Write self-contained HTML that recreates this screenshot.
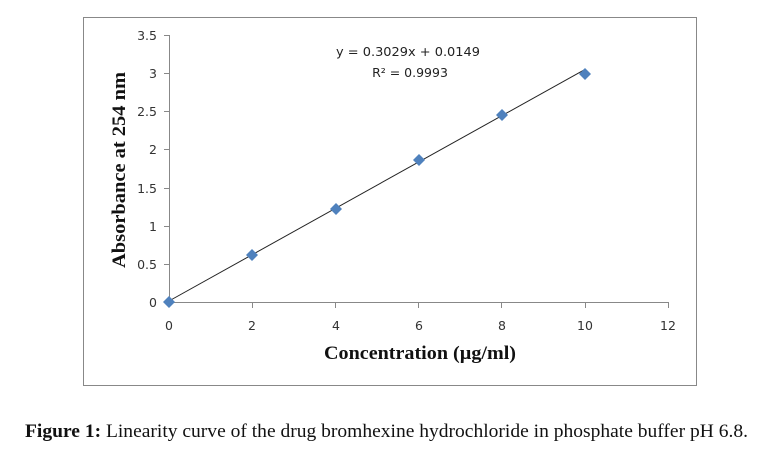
<!DOCTYPE html>
<html><head><meta charset="utf-8"><style>
body{margin:0;background:#fff;width:758px;height:454px;overflow:hidden}
</style></head><body>
<svg width="758" height="454" xmlns="http://www.w3.org/2000/svg">
<rect x="83.5" y="17.5" width="613" height="368" fill="#fff" stroke="#888" stroke-width="1"/>
<g stroke="#888" stroke-width="1" fill="none">
<line x1="169.5" y1="35" x2="169.5" y2="302"/>
<line x1="169" y1="302.5" x2="668" y2="302.5"/>
<line x1="164" y1="35.5" x2="169" y2="35.5"/>
<line x1="164" y1="73.5" x2="169" y2="73.5"/>
<line x1="164" y1="111.5" x2="169" y2="111.5"/>
<line x1="164" y1="149.5" x2="169" y2="149.5"/>
<line x1="164" y1="188.5" x2="169" y2="188.5"/>
<line x1="164" y1="226.5" x2="169" y2="226.5"/>
<line x1="164" y1="264.5" x2="169" y2="264.5"/>
<line x1="164" y1="302.5" x2="169" y2="302.5"/>
<line x1="252.5" y1="302" x2="252.5" y2="308"/>
<line x1="335.5" y1="302" x2="335.5" y2="308"/>
<line x1="418.5" y1="302" x2="418.5" y2="308"/>
<line x1="501.5" y1="302" x2="501.5" y2="308"/>
<line x1="585.5" y1="302" x2="585.5" y2="308"/>
<line x1="668.5" y1="302" x2="668.5" y2="308"/>
</g>
<g font-family="'DejaVu Sans','Liberation Sans',sans-serif" font-size="12.5" fill="#333" text-anchor="end">
<text x="157" y="40">3.5</text><text x="157" y="78">3</text><text x="157" y="116">2.5</text>
<text x="157" y="154">2</text><text x="157" y="193">1.5</text><text x="157" y="231">1</text>
<text x="157" y="269">0.5</text><text x="157" y="307">0</text>
</g>
<g font-family="'DejaVu Sans','Liberation Sans',sans-serif" font-size="12.5" fill="#333" text-anchor="middle">
<text x="169" y="330">0</text><text x="252" y="330">2</text><text x="336" y="330">4</text>
<text x="419" y="330">6</text><text x="502" y="330">8</text><text x="585" y="330">10</text><text x="668" y="330">12</text>
</g>
<line x1="169" y1="301" x2="585" y2="69.4" stroke="#222" stroke-width="1"/>
<g fill="#4f81bd">
<path d="M169 296 L175 302 L169 308 L163 302Z"/>
<path d="M252 249 L258 255 L252 261 L246 255Z"/>
<path d="M336 203 L342 209 L336 215 L330 209Z"/>
<path d="M419 154 L425 160 L419 166 L413 160Z"/>
<path d="M502 109 L508 115 L502 121 L496 115Z"/>
<path d="M585 68 L591 74 L585 80 L579 74Z"/>
</g>
<g font-family="'DejaVu Sans','Liberation Sans',sans-serif" font-size="12.5" fill="#222" text-anchor="middle">
<text x="408" y="56" textLength="144" lengthAdjust="spacingAndGlyphs">y = 0.3029x + 0.0149</text>
<text x="410" y="77">R² = 0.9993</text>
</g>
<text transform="translate(125,170) rotate(-90)" text-anchor="middle" font-family="'Liberation Serif',serif" font-weight="bold" font-size="19" fill="#111" textLength="196" lengthAdjust="spacingAndGlyphs">Absorbance  at 254 nm</text>
<text x="324" y="359" font-family="'Liberation Serif',serif" font-weight="bold" font-size="19" fill="#111" textLength="192" lengthAdjust="spacingAndGlyphs">Concentration  (µg/ml)</text>
<text x="25" y="437" font-family="'Liberation Serif',serif" font-size="19" fill="#111" textLength="723" lengthAdjust="spacingAndGlyphs"><tspan font-weight="bold">Figure 1:</tspan> Linearity curve of the drug bromhexine hydrochloride in phosphate buffer pH 6.8.</text>
</svg>
</body></html>
